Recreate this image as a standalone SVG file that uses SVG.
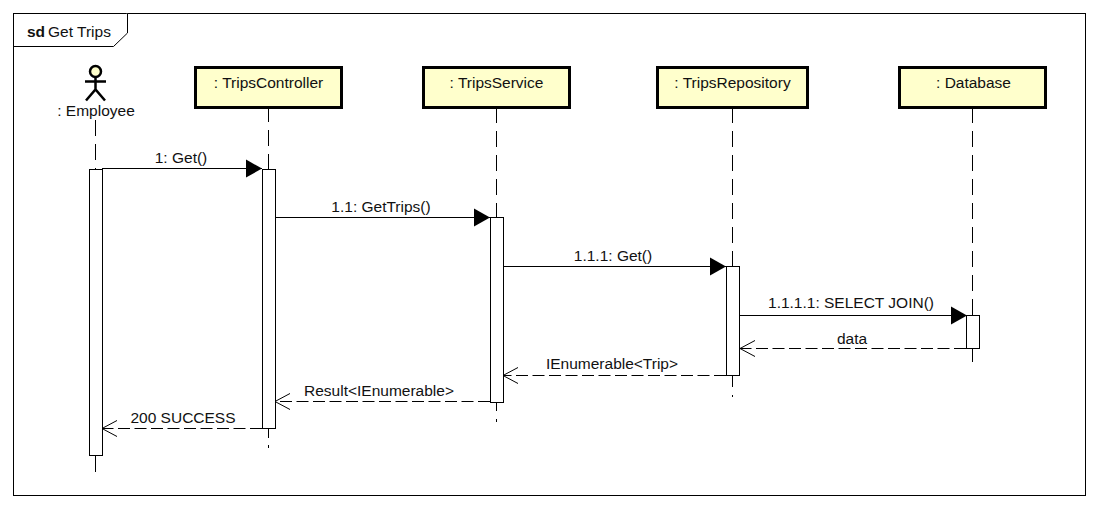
<svg xmlns="http://www.w3.org/2000/svg" width="1098" height="508" viewBox="0 0 1098 508">
<defs><style>
text{font-family:"Liberation Sans",Arial,sans-serif;font-size:15.500px;fill:#111;text-anchor:middle}
.box{fill:#ffffcc;stroke:#000;stroke-width:3}
.act{fill:#fff;stroke:#000;stroke-width:1}
.life{stroke:#000;stroke-width:1;stroke-dasharray:16 8;fill:none}
.msg{stroke:#000;stroke-width:1;fill:none}
.ret{stroke:#000;stroke-width:1;fill:none;stroke-dasharray:12 4.500}
</style>
<marker id="solid" markerUnits="userSpaceOnUse" markerWidth="18" markerHeight="20" refX="16" refY="10" orient="auto"><path d="M0 1L16 10L0 19Z" fill="#000"/></marker>
<marker id="open" markerUnits="userSpaceOnUse" markerWidth="18" markerHeight="20" refX="16" refY="10" orient="auto"><path d="M1 2L16 10L1 18" fill="none" stroke="#000"/></marker>
</defs>
<rect width="1098" height="508" fill="#fff"/>
<g id="frame">
<rect x="13.500" y="13.500" width="1072" height="482" fill="#fff" stroke="#000"/>
<path d="M13.500 46.500H113.500L127.500 33V13.500" fill="#fff" stroke="#000"/>
<text x="27" y="37" style="text-anchor:start;font-weight:bold">sd</text>
<text x="48" y="37" style="text-anchor:start">Get Trips</text>
</g>
<g id="connectors">
<path class="life" d="M95.500 120V169"/><path class="msg" d="M95.500 456V472"/>
<path class="life" d="M268.500 106V170"/><path class="msg" d="M268.500 429V438M268.500 445V448"/>
<path class="life" d="M496.500 107V422"/>
<path class="life" d="M732.500 107V397"/>
<path class="life" d="M972.500 107V362"/>
<path class="msg" d="M102 168.500H262" marker-end="url(#solid)"/>
<path class="msg" d="M275 217.500H490" marker-end="url(#solid)"/>
<path class="msg" d="M503 266.500H726" marker-end="url(#solid)"/>
<path class="msg" d="M739 315.500H967" marker-end="url(#solid)"/>
<path class="ret" d="M966 348.500H740" marker-end="url(#open)"/>
<path class="ret" d="M726 375.500H503" marker-end="url(#open)"/>
<path class="ret" d="M490 401.500H275" marker-end="url(#open)"/>
<path class="ret" d="M262 428.500H102" marker-end="url(#open)"/>
<text x="181" y="163">1: Get()</text>
<text x="381" y="212">1.1: GetTrips()</text>
<text x="613" y="261">1.1.1: Get()</text>
<text x="851" y="308">1.1.1.1: SELECT JOIN()</text>
<text x="852" y="344">data</text>
<text x="612" y="369">IEnumerable&lt;Trip&gt;</text>
<text x="379" y="396">Result&lt;IEnumerable&gt;</text>
<text x="183" y="423">200 SUCCESS</text>
</g>
<g id="employee">
<circle cx="95.500" cy="71.500" r="5.500" fill="#ffffcc" stroke="#000" stroke-width="2.500"/>
<path d="M95.500 77V90M85 81.500H106M86 100.500L95.500 89.500L105 100.500" fill="none" stroke="#000" stroke-width="2.500"/>
<text x="96" y="116">: Employee</text>
<rect class="act" x="89.500" y="169.500" width="13" height="286"/>
</g>
<g id="tripscontroller">
<rect class="box" x="195.500" y="67.500" width="146" height="40"/>
<text x="268.500" y="88">: TripsController</text>
<rect class="act" x="262.500" y="169.500" width="13" height="259"/>
</g>
<g id="tripsservice">
<rect class="box" x="423.500" y="67.500" width="146" height="40"/>
<text x="496.500" y="88">: TripsService</text>
<rect class="act" x="490.500" y="217.500" width="13" height="185"/>
</g>
<g id="tripsrepository">
<rect class="box" x="657.500" y="67.500" width="150" height="40"/>
<text x="732.500" y="88">: TripsRepository</text>
<rect class="act" x="726.500" y="266.500" width="13" height="109"/>
</g>
<g id="database">
<rect class="box" x="899.500" y="67.500" width="146" height="40"/>
<text x="973.500" y="88">: Database</text>
<rect class="act" x="966.500" y="315.500" width="13" height="33"/>
</g>
</svg>
